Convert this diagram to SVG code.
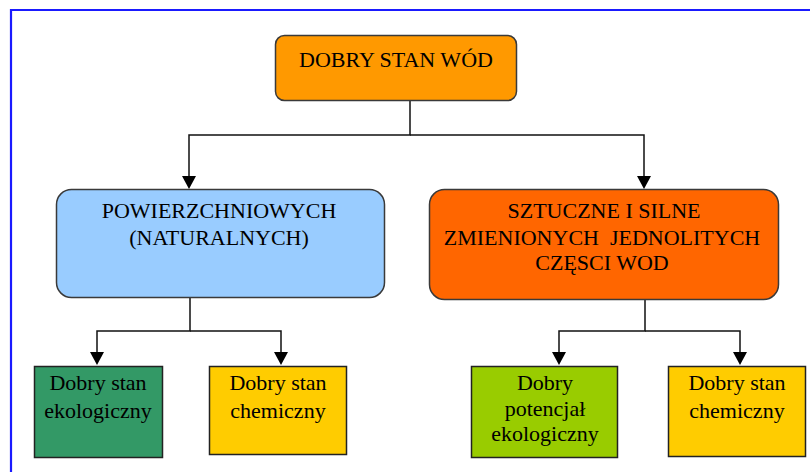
<svg xmlns="http://www.w3.org/2000/svg" width="810" height="472" viewBox="0 0 810 472">
<style>
.t{font-family:"Liberation Serif","Times New Roman",serif;font-size:22px;fill:#000;text-anchor:middle}
.rb{stroke:#3a3a3a;stroke-width:1.5}
.sb{stroke:#222;stroke-width:1.5}
.c{fill:none;stroke:#111;stroke-width:1.5}
</style>
<defs>
<marker id="ah" markerUnits="userSpaceOnUse" markerWidth="14" markerHeight="14" viewBox="0 0 14 14" refX="7" refY="13" orient="auto-start-reverse">
<path d="M0,0 L14,0 L7,13 Z" fill="#000" transform="rotate(-90 7 7)"/>
</marker>
</defs>
<rect x="0" y="0" width="810" height="472" fill="#fff"/>
<path d="M11,472 V10 H810" fill="none" stroke="#1a1aff" stroke-width="2.2"/>
<g id="connectors">
<path class="c" d="M410,101 V135 H189 V176"/>
<path class="c" d="M410,135 H644 V176"/>
<path class="c" d="M190,297 V331 H97 V352"/>
<path class="c" d="M190,331 H281 V352"/>
<path class="c" d="M645,299 V331 H559 V352"/>
<path class="c" d="M645,331 H740 V352"/>
<path d="M182,176 H196 L189,189 Z" fill="#000"/>
<path d="M637,176 H651 L644,189 Z" fill="#000"/>
<path d="M90,352 H104 L97,365 Z" fill="#000"/>
<path d="M274,352 H288 L281,365 Z" fill="#000"/>
<path d="M552,352 H566 L559,365 Z" fill="#000"/>
<path d="M733,352 H747 L740,365 Z" fill="#000"/>
</g>
<g id="n-root">
<rect class="rb" x="275.5" y="35.5" width="241" height="65" rx="9" fill="#FF9900"/>
<text class="t" x="396" y="67">DOBRY STAN WÓD</text>
</g>
<g id="n-pow">
<rect class="rb" x="56.5" y="189.5" width="328" height="108" rx="15" fill="#99CCFF"/>
<text class="t" x="219" y="218">POWIERZCHNIOWYCH</text>
<text class="t" x="219" y="245">(NATURALNYCH)</text>
</g>
<g id="n-szt">
<rect class="rb" x="429.5" y="189.5" width="349" height="110" rx="15" fill="#FF6600"/>
<text class="t" x="604" y="218">SZTUCZNE I SILNE</text>
<text class="t" x="602" y="245" xml:space="preserve">ZMIENIONYCH  JEDNOLITYCH</text>
<text class="t" x="602" y="270">CZĘSCI WOD</text>
</g>
<g id="n-eko">
<rect class="sb" x="34.5" y="366.5" width="128" height="91" fill="#339966"/>
<text class="t" x="98" y="390">Dobry stan</text>
<text class="t" x="98" y="418">ekologiczny</text>
</g>
<g id="n-chem1">
<rect class="sb" x="209.5" y="366.5" width="137" height="88" fill="#FFCC00"/>
<text class="t" x="278" y="390">Dobry stan</text>
<text class="t" x="278" y="418">chemiczny</text>
</g>
<g id="n-pot">
<rect class="sb" x="471.5" y="366.5" width="146" height="91" fill="#99CC00"/>
<text class="t" x="545" y="390">Dobry</text>
<text class="t" x="545" y="416">potencjał</text>
<text class="t" x="545" y="441">ekologiczny</text>
</g>
<g id="n-chem2">
<rect class="sb" x="668.5" y="366.5" width="137" height="90" fill="#FFCC00"/>
<text class="t" x="737" y="390">Dobry stan</text>
<text class="t" x="737" y="418">chemiczny</text>
</g>
</svg>
